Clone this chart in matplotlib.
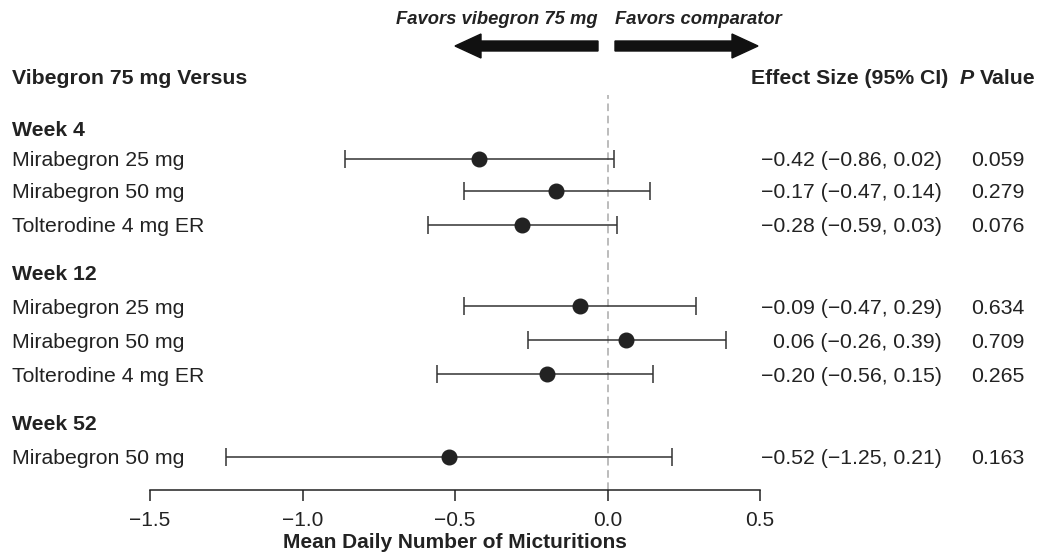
import matplotlib.pyplot as plt
import matplotlib.transforms as mtrans
from matplotlib.patches import FancyArrow

plt.rcParams['font.family'] = ['Liberation Sans', 'DejaVu Sans']

groups = ['Week 4', 'Week 12', 'Week 52']
comparators = [
    ['Mirabegron 25 mg', 'Mirabegron 50 mg', 'Tolterodine 4 mg ER'],
    ['Mirabegron 25 mg', 'Mirabegron 50 mg', 'Tolterodine 4 mg ER'],
    ['Mirabegron 50 mg'],
]
effect = [-0.42, -0.17, -0.28, -0.09, 0.06, -0.20, -0.52]
ci_low = [-0.86, -0.47, -0.59, -0.47, -0.26, -0.56, -1.25]
ci_high = [0.02, 0.14, 0.03, 0.29, 0.39, 0.15, 0.21]
p_values = ['0.059', '0.279', '0.076', '0.634', '0.709', '0.265', '0.163']
xticks = [-1.5, -1.0, -0.5, 0.0, 0.5]

W, H = 1037, 554
fig = plt.figure(figsize=(W / 100, H / 100), dpi=100)

# axes placed in pixel terms: x from -1.5 at px 150 to 0.5 at px 760
ax_left, ax_right = 150, 760
ax_top, ax_bottom = 95, 490
ax = fig.add_axes([ax_left / W, 1 - ax_bottom / H,
                   (ax_right - ax_left) / W, (ax_bottom - ax_top) / H])
ax.set_xlim(-1.5, 0.5)
ax.set_ylim(ax_bottom, ax_top)  # y in pixels from the top

# layout of rows (pixel y from top)
header_y = [128, 273, 422]
row_y = [159, 191, 225, 306, 340, 374, 457]

def minus(v, d=2):
    return f'{v:.{d}f}'.replace('-', '\u2212')

# x in figure fraction, y in axes data
tr = mtrans.blended_transform_factory(fig.transFigure, ax.transData)

fs = 15.3
col = '#222222'
for g, hy in zip(groups, header_y):
    ax.text(12 / W, hy, g, transform=tr, fontsize=fs, fontweight='bold',
            va='center_baseline', ha='left', clip_on=False, color=col)

names = [n for grp in comparators for n in grp]
for i, (name, y) in enumerate(zip(names, row_y)):
    ax.text(12 / W, y, name, transform=tr, fontsize=fs, va='center_baseline',
            ha='left', clip_on=False, color=col)
    txt = f'{minus(effect[i])} ({minus(ci_low[i])}, {minus(ci_high[i])})'
    ax.text(942 / W, y, txt, transform=tr, fontsize=fs, va='center_baseline',
            ha='right', clip_on=False, color=col)
    ax.text(998 / W, y, p_values[i], transform=tr, fontsize=fs,
            va='center_baseline', ha='center', clip_on=False, color=col)

ax.errorbar(effect, row_y, xerr=[[e - l for e, l in zip(effect, ci_low)],
                                 [h - e for e, h in zip(effect, ci_high)]],
            fmt='o', color=col, ecolor='#333333', elinewidth=1.1,
            capsize=6.5, capthick=1.1, markersize=10.5, zorder=3)

ax.axvline(0, color='#aaaaaa', linestyle=(0, (5, 3)), linewidth=1.1, zorder=1)

# axis styling
for s in ['top', 'right', 'left']:
    ax.spines[s].set_visible(False)
ax.spines['bottom'].set_bounds(-1.5, 0.5)
ax.spines['bottom'].set_linewidth(1.1)
ax.spines['bottom'].set_color(col)
ax.set_yticks([])
ax.set_xticks(xticks)
ax.set_xticklabels([minus(t, 1) for t in xticks])
ax.tick_params(axis='x', direction='out', length=8, width=1.1,
               labelsize=15, colors=col, pad=7)
ax.set_xlabel('Mean Daily Number of Micturitions', fontsize=15,
              fontweight='bold', color=col, labelpad=2)

# column headers
hy = 1 - 76 / H
fig.text(12 / W, hy, 'Vibegron 75 mg Versus', fontsize=fs,
         fontweight='bold', va='center_baseline', ha='left', color=col)
fig.text(948 / W, hy, 'Effect Size (95% CI)', fontsize=fs,
         fontweight='bold', va='center_baseline', ha='right', color=col)
fig.text(960 / W, hy, 'P', fontsize=fs, fontweight='bold',
         style='italic', va='center_baseline', ha='left', color=col)
fig.text(1035 / W, hy, 'Value', fontsize=fs, fontweight='bold',
         va='center_baseline', ha='right', color=col)

# favors arrows
fig.text(598 / W, 1 - 18 / H, 'Favors vibegron 75 mg', fontsize=13.2,
         fontweight='bold', style='italic', va='center_baseline', ha='right',
         color=col)
fig.text(615 / W, 1 - 18 / H, 'Favors comparator', fontsize=13.2,
         fontweight='bold', style='italic', va='center_baseline', ha='left',
         color=col)
ay = 1 - 46 / H
for x0, dx in [(598, -143), (615, 143)]:
    fig.patches.append(FancyArrow(x0 / W, ay, dx / W, 0, width=10 / H,
                                  head_width=24 / H, head_length=26 / W,
                                  length_includes_head=True, color='#111111',
                                  transform=fig.transFigure, figure=fig))

fig.savefig('out.png', dpi=100)
